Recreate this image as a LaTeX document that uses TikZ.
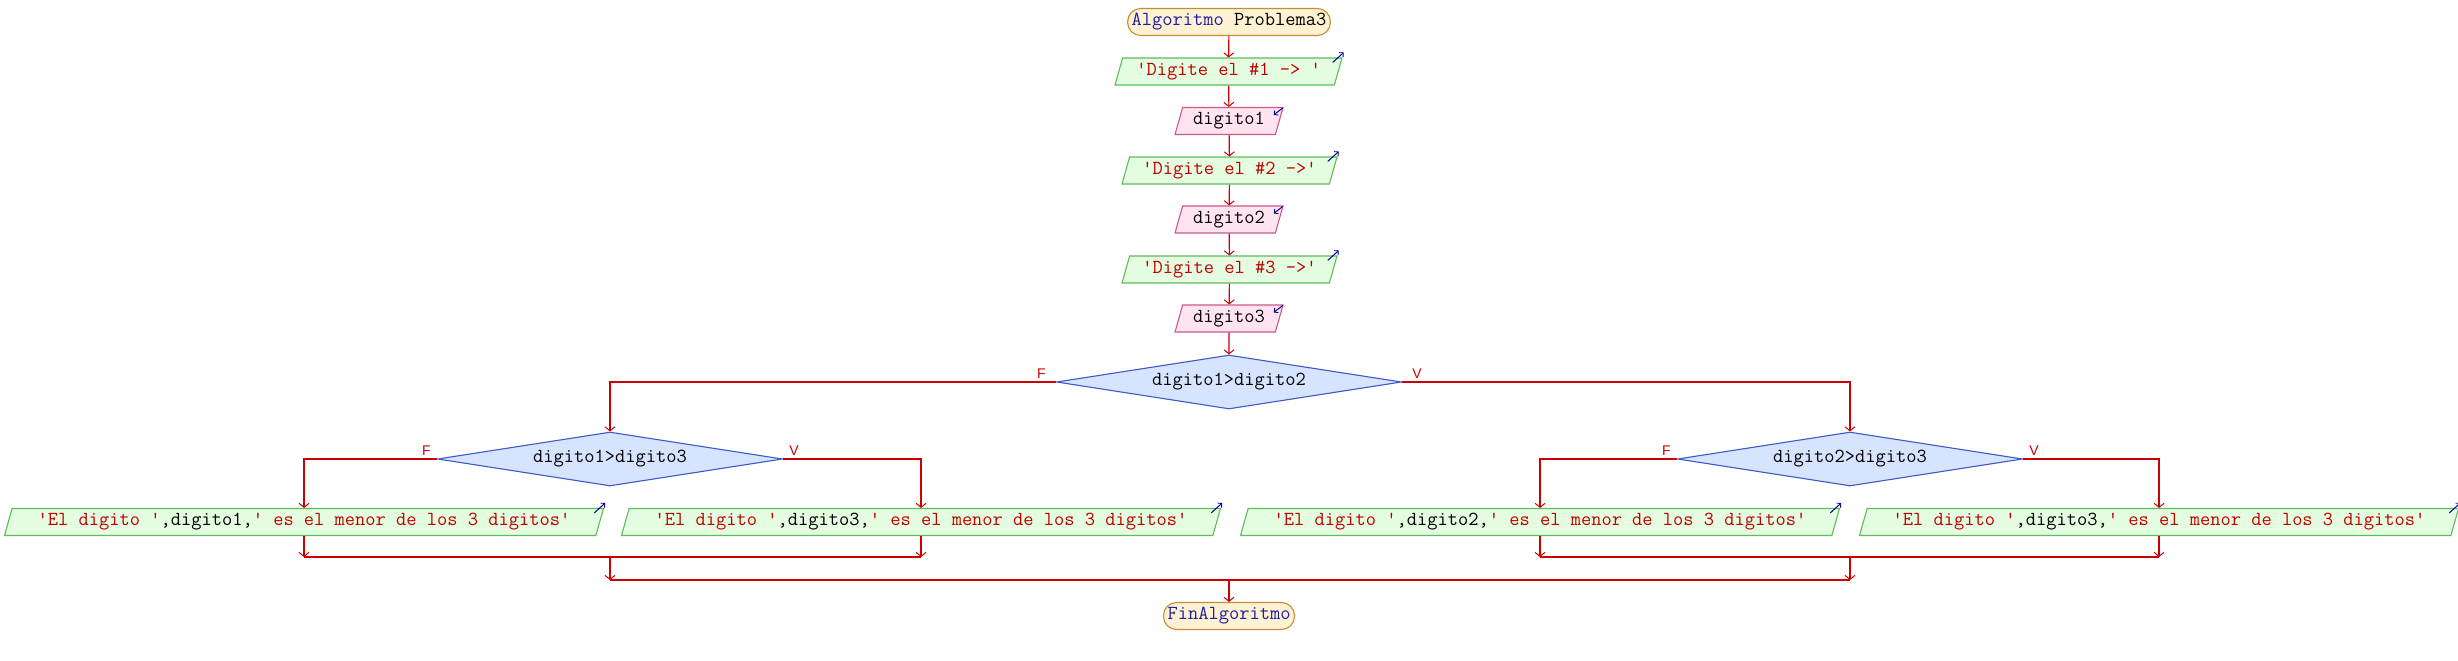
\documentclass[tikz,border=0pt]{standalone}
\usepackage{fontspec}
\setmainfont{Liberation Sans}
\usetikzlibrary{shapes.geometric,arrows.meta}
\definecolor{flowred}{RGB}{204,0,0}
\definecolor{strred}{RGB}{190,0,0}
\definecolor{kwblue}{RGB}{30,30,160}
\definecolor{iconblue}{RGB}{0,0,150}
\definecolor{termfill}{RGB}{255,242,210}
\definecolor{termdraw}{RGB}{200,140,50}
\definecolor{outfill}{RGB}{228,252,224}
\definecolor{outdraw}{RGB}{90,190,90}
\definecolor{infill}{RGB}{255,228,240}
\definecolor{indraw}{RGB}{200,90,140}
\definecolor{decfill}{RGB}{214,228,255}
\definecolor{decdraw}{RGB}{60,90,200}
\newcommand\strtxt[1]{\textcolor{strred}{#1}}
\newcommand\outicon[1]{\draw[icon] ([shift={(-10pt,-5pt)}]#1.top right corner) -- ([shift={(1pt,5pt)}]#1.top right corner);}
\newcommand\inicon[1]{\draw[icon] ([shift={(-1pt,-1pt)}]#1.top right corner) -- ([shift={(-10pt,-8pt)}]#1.top right corner);}
\begin{document}
\begin{tikzpicture}[x=1pt,y=-1pt,
  txt/.style={font=\fontsize{19.9}{22}\selectfont\ttfamily, text=black},
  term/.style={txt, rectangle, rounded corners=13pt, draw=termdraw, fill=termfill, line width=1.1pt, minimum height=27pt, inner xsep=4pt, inner ysep=2pt},
  para/.style={txt, trapezium, trapezium left angle=70, trapezium right angle=110, trapezium stretches body, minimum height=27pt, inner ysep=2pt, line width=1.1pt},
  outbox/.style={para, draw=outdraw, fill=outfill},
  inbox/.style={para, draw=indraw, fill=infill},
  dec/.style={txt, diamond, aspect=6.4, draw=decdraw, fill=decfill, line width=1.1pt, minimum width=345pt, minimum height=54pt, inner sep=0pt},
  line/.style={draw=flowred, line width=1.15pt},
  flow/.style={line, -{Straight Barb[length=4pt,width=10pt,line width=1pt]}},
  icon/.style={draw=iconblue, line width=1pt, -{Straight Barb[length=3pt,width=6pt,line width=0.9pt]}},
  lbl/.style={font=\fontsize{14}{16}\selectfont, text=flowred, inner sep=0pt}
]
\fill[white] (0,0) rectangle (2458,661);
\useasboundingbox (0,0) rectangle (2458,661);

\node[term] (t1) at (1229,22) {\textcolor{kwblue}{Algoritmo} Problema3};
\node[outbox, minimum width=227pt] (o1) at (1228.5,71.5) {\strtxt{'Digite el \#1 -> '}};
\node[inbox, minimum width=108pt] (i1) at (1229,121) {digito1};
\node[outbox, minimum width=215pt] (o2) at (1229.5,170.5) {\strtxt{'Digite el \#2 ->'}};
\node[inbox, minimum width=108pt] (i2) at (1229,219.5) {digito2};
\node[outbox, minimum width=215pt] (o3) at (1229.5,269.5) {\strtxt{'Digite el \#3 ->'}};
\node[inbox, minimum width=108pt] (i3) at (1229,318.5) {digito3};

\node[dec] (d1) at (1229,382) {digito1>digito2};
\node[dec] (d2) at (610,459) {digito1>digito3};
\node[dec] (d3) at (1850,459) {digito2>digito3};

\node[outbox, minimum width=599pt] (A) at (304,522) {\strtxt{'El digito '},digito1,\strtxt{' es el menor de los 3 digitos'}};
\node[outbox, minimum width=599pt] (B) at (921,522) {\strtxt{'El digito '},digito3,\strtxt{' es el menor de los 3 digitos'}};
\node[outbox, minimum width=599pt] (C) at (1540,522) {\strtxt{'El digito '},digito2,\strtxt{' es el menor de los 3 digitos'}};
\node[outbox, minimum width=599pt] (D) at (2159,522) {\strtxt{'El digito '},digito3,\strtxt{' es el menor de los 3 digitos'}};

\node[term] (fin) at (1229,616) {\textcolor{kwblue}{FinAlgoritmo}};

\outicon{o1}\outicon{o2}\outicon{o3}
\inicon{i1}\inicon{i2}\inicon{i3}
\outicon{A}\outicon{B}\outicon{C}\outicon{D}

\draw[flow] (t1) -- (o1);
\draw[flow] (o1) -- (i1);
\draw[flow] (i1) -- (o2);
\draw[flow] (o2) -- (i2);
\draw[flow] (i2) -- (o3);
\draw[flow] (o3) -- (i3);
\draw[flow] (i3) -- (d1);

\draw[flow] (d1.west) -| (d2.north);
\draw[flow] (d1.east) -| (d3.north);
\draw[flow] (d2.west) -| (A.north);
\draw[flow] (d2.east) -| (B.north);
\draw[flow] (d3.west) -| (C.north);
\draw[flow] (d3.east) -| (D.north);

\node[lbl, anchor=base east] (f1) at ([shift={(-10pt,4pt)}]d1.west) {F};
\node[lbl, anchor=base west] (v1) at ([shift={(10pt,4pt)}]d1.east) {V};
\node[lbl, anchor=base east] (f2) at ([shift={(-6pt,4pt)}]d2.west) {F};
\node[lbl, anchor=base west] (v2) at ([shift={(6pt,4pt)}]d2.east) {V};
\node[lbl, anchor=base east] (f3) at ([shift={(-6pt,4pt)}]d3.west) {F};
\node[lbl, anchor=base west] (v3) at ([shift={(6pt,4pt)}]d3.east) {V};

\coordinate (j1) at (610,557);
\coordinate (j2) at (1850,557);
\coordinate (j0) at (1229,580);

\draw[flow] (A) -- (A.center |- j1);
\draw[flow] (B) -- (B.center |- j1);
\draw[line] (A.center |- j1) -- (B.center |- j1);
\draw[flow] (C) -- (C.center |- j2);
\draw[flow] (D) -- (D.center |- j2);
\draw[line] (C.center |- j2) -- (D.center |- j2);
\draw[flow] (j1) -- (j1 |- j0);
\draw[flow] (j2) -- (j2 |- j0);
\draw[line] (j1 |- j0) -- (j2 |- j0);
\draw[flow] (j0) -- (fin);
\end{tikzpicture}
\end{document}
